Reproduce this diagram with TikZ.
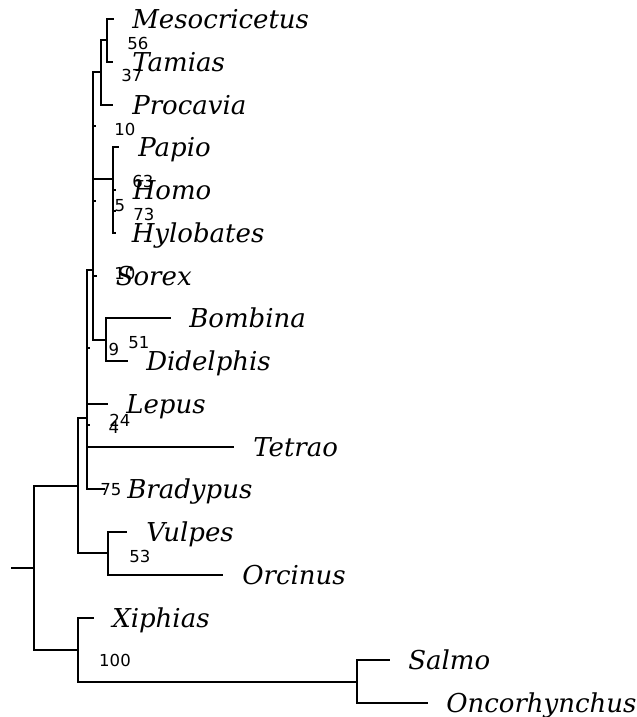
\documentclass[tikz,border=0pt]{standalone}
\usepackage{fontspec}
\newfontfamily\taxfont{DejaVu Serif}
\newfontfamily\numfont{DejaVu Sans}
\begin{document}
\begin{tikzpicture}[x=0.75pt,y=-0.75pt,
  branch/.style={line width=1.5pt, line cap=rect, line join=miter},
  taxon/.style={font=\taxfont\itshape\fontsize{19.5}{20}\selectfont, anchor=base west, inner sep=0pt},
  conf/.style={font=\numfont\fontsize{12.4}{13}\selectfont, anchor=base, inner sep=0pt}]
\useasboundingbox (0,0) rectangle (636,717);
% internal nodes
\coordinate (R)  at (12,567.7);
\coordinate (A)  at (34,567.7);
\coordinate (A1) at (78,485.9);
\coordinate (A2) at (78,649.56);
\coordinate (S)  at (357,681.6);
\coordinate (V)  at (108,553.4);
\coordinate (N1) at (87,418.45);
\coordinate (N2) at (87,347.64);
\coordinate (N3) at (87,425.1);
\coordinate (B)  at (93,270.16);
\coordinate (C)  at (93,200.7);
\coordinate (H)  at (93,125.9);
\coordinate (D)  at (106,339.6);
\coordinate (M)  at (101,72.44);
\coordinate (P)  at (107,40.4);
\coordinate (E)  at (113,179.3);
\coordinate (F)  at (113,211.4);
% tips
\coordinate (tMes) at (113,19);
\coordinate (tTam) at (112,61.75);
\coordinate (tPro) at (112,104.5);
\coordinate (tPap) at (118,147.25);
\coordinate (tHom) at (114.5,190);
\coordinate (tHyl) at (114.5,232.75);
\coordinate (tSor) at (95.5,275.5);
\coordinate (tBom) at (170,318.25);
\coordinate (tDid) at (127,361);
\coordinate (tLep) at (107,403.75);
\coordinate (tTet) at (233,446.5);
\coordinate (tBra) at (104,489.25);
\coordinate (tVul) at (126,532);
\coordinate (tOrc) at (222,574.75);
\coordinate (tXip) at (93,617.5);
\coordinate (tSal) at (389,660.25);
\coordinate (tOnc) at (427,703);
% branches
\draw[branch] (R) -- (A);
\draw[branch] (A) |- (A1);
\draw[branch] (A) |- (A2);
\draw[branch] (A2) |- (tXip);
\draw[branch] (A2) |- (S);
\draw[branch] (S) |- (tSal);
\draw[branch] (S) |- (tOnc);
\draw[branch] (A1) |- (N1);
\draw[branch] (A1) |- (V);
\draw[branch] (V) |- (tVul);
\draw[branch] (V) |- (tOrc);
\draw[branch] (N1) |- (N2);
\draw[branch] (N1) |- (tBra);
\draw[branch] (N2) |- (B);
\draw[branch] (N2) |- (N3);
\draw[branch] (N3) |- (tLep);
\draw[branch] (N3) |- (tTet);
\draw[branch] (B) |- (C);
\draw[branch] (B) |- (D);
\draw[branch] (D) |- (tBom);
\draw[branch] (D) |- (tDid);
\draw[branch] (C) |- (H);
\draw[branch] (C) |- (tSor);
\draw[branch] (H) |- (M);
\draw[branch] (H) |- (E);
\draw[branch] (M) |- (P);
\draw[branch] (M) |- (tPro);
\draw[branch] (P) |- (tMes);
\draw[branch] (P) |- (tTam);
\draw[branch] (E) |- (tPap);
\draw[branch] (E) |- (F);
\draw[branch] (F) |- (tHom);
\draw[branch] (F) |- (tHyl);
% zero-length branch ticks
\draw[branch] (N2) -- ++(1.5,0);
\draw[branch] (N3) -- ++(1.5,0);
\draw[branch] (C) -- ++(1.5,0);
\draw[branch] (H) -- ++(1.5,0);
\draw[branch] (F) -- ++(1.5,0);
% taxon labels
\node[taxon] (lMes) at ([xshift=19*0.75pt,yshift=-9.5*0.75pt]tMes) {Mesocricetus};
\node[taxon] (lTam) at ([xshift=20*0.75pt,yshift=-9.5*0.75pt]tTam) {Tamias};
\node[taxon] (lPro) at ([xshift=20*0.75pt,yshift=-9.5*0.75pt]tPro) {Procavia};
\node[taxon] (lPap) at ([xshift=20*0.75pt,yshift=-9.5*0.75pt]tPap) {Papio};
\node[taxon] (lHom) at ([xshift=18*0.75pt,yshift=-9.5*0.75pt]tHom) {Homo};
\node[taxon] (lHyl) at ([xshift=17*0.75pt,yshift=-9.5*0.75pt]tHyl) {Hylobates};
\node[taxon] (lSor) at ([xshift=20*0.75pt,yshift=-9.5*0.75pt]tSor) {Sorex};
\node[taxon] (lBom) at ([xshift=19*0.75pt,yshift=-9.5*0.75pt]tBom) {Bombina};
\node[taxon] (lDid) at ([xshift=19*0.75pt,yshift=-9.5*0.75pt]tDid) {Didelphis};
\node[taxon] (lLep) at ([xshift=19*0.75pt,yshift=-9.5*0.75pt]tLep) {Lepus};
\node[taxon] (lTet) at ([xshift=20*0.75pt,yshift=-9.5*0.75pt]tTet) {Tetrao};
\node[taxon] (lBra) at ([xshift=23*0.75pt,yshift=-9.5*0.75pt]tBra) {Bradypus};
\node[taxon] (lVul) at ([xshift=20*0.75pt,yshift=-9.5*0.75pt]tVul) {Vulpes};
\node[taxon] (lOrc) at ([xshift=20*0.75pt,yshift=-9.5*0.75pt]tOrc) {Orcinus};
\node[taxon] (lXip) at ([xshift=19*0.75pt,yshift=-9.5*0.75pt]tXip) {Xiphias};
\node[taxon] (lSal) at ([xshift=19*0.75pt,yshift=-9.5*0.75pt]tSal) {Salmo};
\node[taxon] (lOnc) at ([xshift=19*0.75pt,yshift=-9.5*0.75pt]tOnc) {Oncorhynchus};
% confidence labels
\node[conf] (c56) at (138,50) {56};
\node[conf] (c37) at (132,81) {37};
\node[conf] (c10a) at (125,135) {10};
\node[conf] (c63) at (143,187) {63};
\node[conf] (c5) at (120,211) {5};
\node[conf] (c73) at (144,220) {73};
\node[conf] (c10b) at (125,279) {10};
\node[conf] (c9) at (114,355) {9};
\node[conf] (c51) at (139,348) {51};
\node[conf] (c24) at (120,426) {24};
\node[conf] (c4) at (114,433) {4};
\node[conf] (c75) at (111,495) {75};
\node[conf] (c53) at (140,562) {53};
\node[conf] (c100) at (115,666) {100};
\end{tikzpicture}
\end{document}
